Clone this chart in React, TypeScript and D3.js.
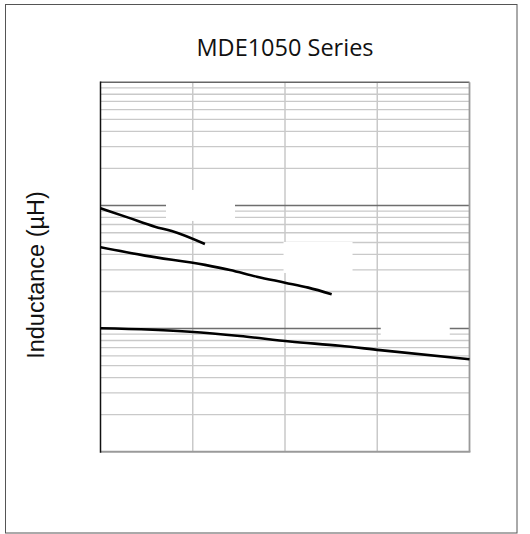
import { useEffect, useRef } from "react"
import * as d3 from "d3"

// current (A) on x, inductance (µH) on a log y axis
const X_DOMAIN: [number, number] = [0, 20]
const X_GRID = [5, 10, 15]
const Y_DOMAIN: [number, number] = [0.1, 100]
const DECADES = [0.1, 1, 10]
const MINOR_STEPS = [2, 3, 4, 5, 6, 7, 8, 9]

const curve10uH: [number, number][] = [
  [0, 9.5],
  [1.51, 7.96],
  [2.95, 6.72],
  [3.86, 6.2],
  [5.66, 4.86],
]
const curve4u7H: [number, number][] = [
  [0, 4.57],
  [2.41, 3.91],
  [5.66, 3.29],
  [7.02, 2.99],
  [8.47, 2.64],
  [10, 2.36],
  [11.26, 2.15],
  [12.53, 1.9],
]
const curve1uH: [number, number][] = [
  [0, 1.005],
  [4.85, 0.943],
  [7.56, 0.87],
  [10.27, 0.785],
  [12.98, 0.725],
  [15.15, 0.668],
  [20, 0.563],
]
const series = [curve10uH, curve4u7H, curve1uH]

// label boxes (centre in data units)
const labelBoxes: [number, number][] = [
  [5.42, 10],
  [11.79, 3.78],
  [17.06, 1.13],
]

const TITLE = "MDE1050 Series"
const Y_LABEL = "Inductance (µH)"

export default function App() {
  const svgRef = useRef<SVGSVGElement>(null)

  useEffect(() => {
    const svg = d3.select(svgRef.current!)
    svg.selectAll("*").remove()

    const left = 100.5
    const right = 469.5
    const top = 82.3
    const bottom = 451.7

    const x = d3.scaleLinear().domain(X_DOMAIN).range([left, right])
    const y = d3.scaleLog().domain(Y_DOMAIN).range([bottom, top])

    // outer frame
    svg
      .append("rect")
      .attr("x", 5.5)
      .attr("y", 4.5)
      .attr("width", 511.5)
      .attr("height", 528.5)
      .attr("fill", "white")
      .attr("stroke", "#555")
      .attr("stroke-width", 1)

    const grid = svg.append("g")
    const minors = DECADES.flatMap((d) => MINOR_STEPS.map((k) => d * k))
    grid
      .selectAll("line.minor")
      .data(minors)
      .enter()
      .append("line")
      .attr("x1", left)
      .attr("x2", right)
      .attr("y1", (d) => y(d))
      .attr("y2", (d) => y(d))
      .attr("stroke", "#c9c9c9")
      .attr("stroke-width", 1.3)

    grid
      .selectAll("line.vert")
      .data(X_GRID)
      .enter()
      .append("line")
      .attr("x1", (d) => x(d))
      .attr("x2", (d) => x(d))
      .attr("y1", top)
      .attr("y2", bottom)
      .attr("stroke", "#c9c9c9")
      .attr("stroke-width", 1.5)

    grid
      .selectAll("line.major")
      .data(DECADES.slice(1))
      .enter()
      .append("line")
      .attr("x1", left)
      .attr("x2", right)
      .attr("y1", (d) => y(d))
      .attr("y2", (d) => y(d))
      .attr("stroke", "#6e6e6e")
      .attr("stroke-width", 1.5)

    // white label boxes knock out the grid
    svg
      .append("g")
      .selectAll("rect")
      .data(labelBoxes)
      .enter()
      .append("rect")
      .attr("x", (d) => x(d[0]) - 34.5)
      .attr("y", (d) => y(d[1]) - 15.5)
      .attr("width", 69)
      .attr("height", 31)
      .attr("fill", "white")

    // plot frame
    svg
      .append("line")
      .attr("x1", left)
      .attr("x2", right)
      .attr("y1", top)
      .attr("y2", top)
      .attr("stroke", "#666")
      .attr("stroke-width", 1.5)
    svg
      .append("line")
      .attr("x1", right)
      .attr("x2", right)
      .attr("y1", top)
      .attr("y2", bottom)
      .attr("stroke", "#9a9a9a")
      .attr("stroke-width", 1.8)
    svg
      .append("line")
      .attr("x1", left)
      .attr("x2", right + 0.9)
      .attr("y1", bottom)
      .attr("y2", bottom)
      .attr("stroke", "#9a9a9a")
      .attr("stroke-width", 2)
    svg
      .append("line")
      .attr("x1", left)
      .attr("x2", left)
      .attr("y1", top - 0.7)
      .attr("y2", bottom + 1)
      .attr("stroke", "#111")
      .attr("stroke-width", 1.5)

    const line = d3
      .line<[number, number]>()
      .curve(d3.curveMonotoneX)
      .x((d) => x(d[0]))
      .y((d) => y(d[1]))

    svg
      .append("g")
      .selectAll("path")
      .data(series)
      .enter()
      .append("path")
      .attr("d", (d) => line(d))
      .attr("fill", "none")
      .attr("stroke", "#000")
      .attr("stroke-width", 2.6)

    svg
      .append("text")
      .attr("x", (left + right) / 2)
      .attr("y", 56)
      .attr("text-anchor", "middle")
      .attr("font-family", "'Open Sans', sans-serif")
      .attr("font-size", 23.5)
      .attr("fill", "#111")
      .text(TITLE)

    svg
      .append("text")
      .attr("transform", `translate(44,${(top + bottom) / 2 + 8}) rotate(-90)`)
      .attr("text-anchor", "middle")
      .attr("font-family", "'Liberation Sans', Arial, sans-serif")
      .attr("font-size", 23.5)
      .attr("fill", "#111")
      .text(Y_LABEL)
  }, [])

  return (
    <div style={{ position: "absolute", left: 0, top: 0 }}>
      <svg ref={svgRef} width={530} height={534} style={{ display: "block" }} />
    </div>
  )
}
